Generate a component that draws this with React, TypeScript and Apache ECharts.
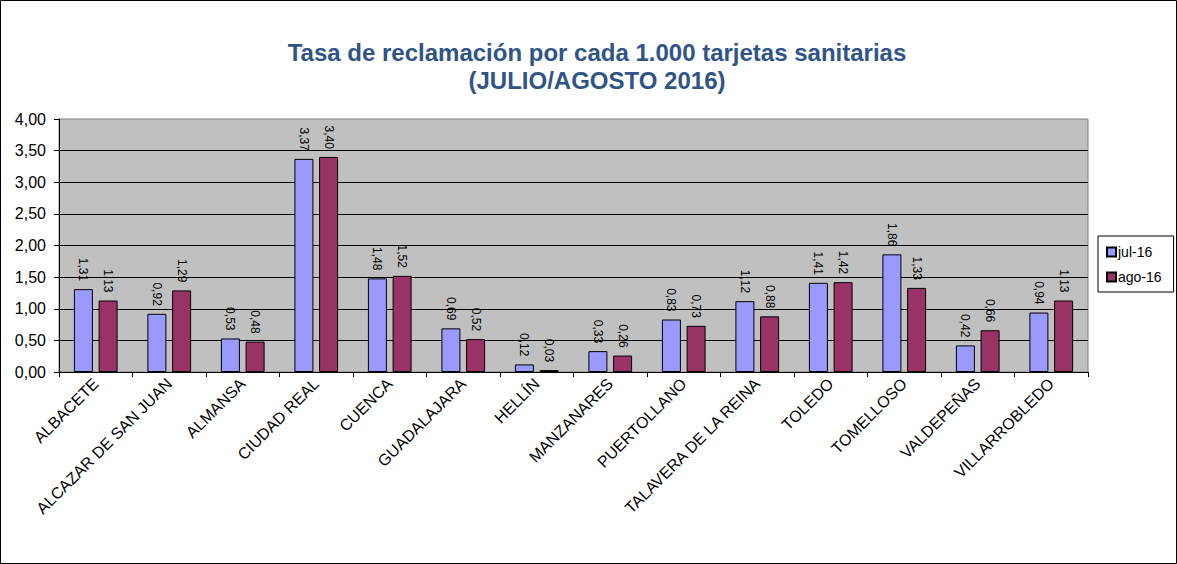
import React, { useEffect, useRef } from "react";
import * as echarts from "echarts";

const categories = [
  "ALBACETE",
  "ALCAZAR DE SAN JUAN",
  "ALMANSA",
  "CIUDAD REAL",
  "CUENCA",
  "GUADALAJARA",
  "HELLÍN",
  "MANZANARES",
  "PUERTOLLANO",
  "TALAVERA DE LA REINA",
  "TOLEDO",
  "TOMELLOSO",
  "VALDEPEÑAS",
  "VILLARROBLEDO",
];
const jul16 = [1.31, 0.92, 0.53, 3.37, 1.48, 0.69, 0.12, 0.33, 0.83, 1.12, 1.41, 1.86, 0.42, 0.94];
const ago16 = [1.13, 1.29, 0.48, 3.4, 1.52, 0.52, 0.03, 0.26, 0.73, 0.88, 1.42, 1.33, 0.66, 1.13];
const seriesNames = ["jul-16", "ago-16"];
const titleLines = ["Tasa de reclamación por cada 1.000 tarjetas sanitarias", "(JULIO/AGOSTO 2016)"];

const FONT = "'Liberation Sans', Arial, sans-serif";
const fmt = (v: number) => v.toFixed(2).replace(".", ",");

export default function App() {
  const ref = useRef<HTMLDivElement>(null);
  useEffect(() => {
    if (!ref.current) return;
    const chart = echarts.init(ref.current, undefined, { renderer: "svg" });
    const label = {
      show: true,
      position: "top",
      distance: 8,
      rotate: -90,
      align: "right",
      verticalAlign: "middle",
      fontFamily: FONT,
      fontSize: 12,
      color: "#000",
      formatter: (p: any) => fmt(p.value),
    };
    chart.setOption({
      animation: false,
      backgroundColor: "#fff",
      textStyle: { fontFamily: FONT },
      title: {
        text: titleLines.join("\n"),
        left: 597,
        top: 38,
        padding: 0,
        textAlign: "center",
        textStyle: {
          fontFamily: FONT,
          fontSize: 24,
          fontWeight: "bold",
          color: "#2F5487",
          lineHeight: 28,
        },
      },
      legend: {
        orient: "vertical",
        left: 1098,
        top: 236,
        width: 66,
        borderColor: "#000",
        borderWidth: 1,
        padding: [9, 12, 8, 8],
        itemWidth: 9,
        itemHeight: 9,
        itemGap: 11,
        icon: "rect",
        textStyle: { fontFamily: FONT, fontSize: 14, color: "#000", padding: [0, 0, 0, -3] },
        data: seriesNames,
      },
      grid: {
        left: 59,
        top: 119,
        right: 89,
        bottom: 192,
        show: true,
        backgroundColor: "#C0C0C0",
        borderColor: "#808080",
        borderWidth: 1,
      },
      xAxis: {
        type: "category",
        data: categories,
        axisLine: { lineStyle: { color: "#000" } },
        axisTick: { show: true, length: 5, lineStyle: { color: "#000" } },
        axisLabel: {
          interval: 0,
          rotate: 45,
          margin: 9,
          fontFamily: FONT,
          fontSize: 16,
          color: "#000",
        },
      },
      yAxis: {
        type: "value",
        min: 0,
        max: 4,
        interval: 0.5,
        axisLine: { show: true, lineStyle: { color: "#000" } },
        axisTick: { show: true, length: 5, lineStyle: { color: "#000" } },
        axisLabel: {
          margin: 13,
          fontFamily: FONT,
          fontSize: 16,
          color: "#000",
          formatter: (v: number) => fmt(v),
        },
        splitLine: { show: true, showMaxLine: false, lineStyle: { color: "#000", width: 1 } },
      },
      series: [
        {
          name: seriesNames[0],
          type: "bar",
          data: jul16,
          barWidth: 19,
          barGap: "30%",
          itemStyle: { color: "#9999FF", borderColor: "#000", borderWidth: 1 },
          label,
        },
        {
          name: seriesNames[1],
          type: "bar",
          data: ago16,
          barWidth: 19,
          itemStyle: { color: "#993366", borderColor: "#000", borderWidth: 1 },
          label,
        },
      ],
      graphic: [
        {
          type: "rect",
          shape: { x: 0.5, y: 0.5, width: 1176, height: 563 },
          style: { fill: "none", stroke: "#000", lineWidth: 1 },
          silent: true,
        },
      ],
    });
    return () => chart.dispose();
  }, []);
  return (
    <div
      ref={ref}
      style={{ position: "absolute", left: 0, top: 0, width: 1177, height: 564 }}
    />
  );
}
